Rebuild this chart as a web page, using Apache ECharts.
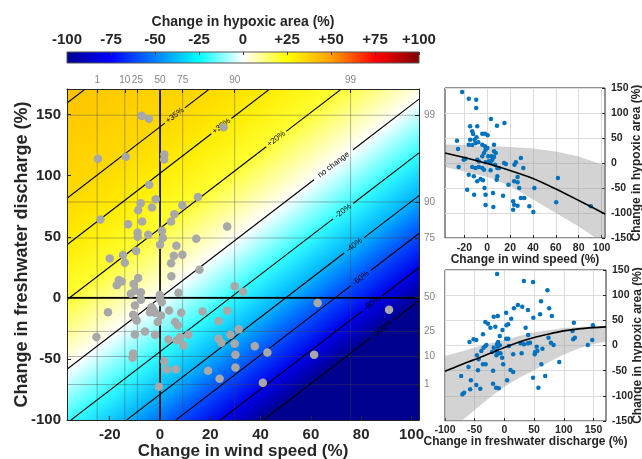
<!DOCTYPE html>
<html>
<head>
<meta charset="utf-8">
<script src="https://cdn.jsdelivr.net/npm/echarts@6/dist/echarts.min.js"></script>
<style>
html,body{margin:0;padding:0;background:#fff}
#chart{width:642px;height:459px}
</style>
</head>
<body>
<div id="chart"></div>
<script>
// ---- colour scale (change in hypoxic area, %) ----
const scaleValues = [-100, -75, -50, -25, 0, 25, 50, 75, 100];
const scaleColors = ['#00008f', '#0000ff', '#0080ff', '#00ffff', '#ffffff', '#ffff00', '#ffa000', '#ff0000', '#800000'];
const scaleTicks = [-100, -75, -50, -25, 0, 25, 50, 75, 100];

// ---- axes ----
const windRange = [-37, 103];
const dischargeRange = [-100, 171];
const windTicks = [-20, 0, 20, 40, 60, 80, 100];
const dischargeTicks = [-100, -50, 0, 50, 100, 150];

// percentiles of the wind and discharge distributions
const windPctLabels = ['1', '10', '25', '50', '75', '90', '99'];
const windPctValues = [-25, -14, -9, 0, 9, 29.7, 75.8];
const dischargePctLabels = ['1', '10', '25', '50', '75', '90', '99'];
const dischargePctValues = [-71, -48, -27.5, 0.5, 49, 78.5, 149.5];

// ---- contours of the response surface (level, ends at the plot edges, label anchor) ----
const contourLevels = [40, 35, 30, 20, 0, -20, -40, -60, -80, -100];
const contourText = ['', '+35%', '+30%', '+20%', 'no change', '-20%', '-40%', '-60%', '-80%', '-100%'];
const contourStart = [[-37, 159.5], [-37, 81.5], [-37, 43.5], [-37, -1.5], [-37, -58.5], [-37, -102.5], [-37, -137.5], [-37, -168.5], [-37, -196.5], [-37, -223.5]];
const contourEnd = [[103, 380.7], [103, 302.7], [103, 264.7], [103, 219.7], [103, 162.7], [103, 118.7], [103, 83.7], [103, 52.7], [103, 24.7], [103, -2.3]];
const contourLabelAt = [null, [5.9, 149.3], [24.4, 140.6], [46.2, 130], [69, 109], [72.8, 71], [77.2, 43], [79.8, 16.1], [84.4, -4.6], [88.4, -25.3]];

// ---- years: wind change vs discharge change ----
const mainWind = [-7.3, -4.4, -24.7, -13.6, 1.7, 1.6, 25.3, -4.3, -1.7, -7.7, -3.2, -8.7, 15.1, 8.9, 5.7, 4.4, -23.7, -12.7, -7.1, 26.7,
  -8.9, -8.9, -4.7, 0.8, 1.1, 0, 6.5, 14.4, -9.5, -14.7, -20, 5.5, 8.9, -14, 4.4, 15.7, -16.4, -15.3, -17.2, -8.7,
  -10.5, 4.5, -10, -11.6, -7.6, 7.3, -0.1, 29.7, 33, 0, -20.7, -10, -7.6, -10.7, -9.3, -10, -4, -2.7, -2, -0.9,
  0.4, 3.6, 8.4, 6, 7.1, 16.9, 26.7, 23.3, 31.3, 28, -25.3, -10, -6, -2, 3.3, 8, 6.7, 9.3, 11.3, 23.3,
  24.4, 29.7, 37.7, -10.7, -10.9, 1.7, 2.7, 6.3, 19.1, 30, 30, 23.7, 40.9, -0.4, 62.7, 91.1, 42.7, 61.3, 0.7, -3.3];
const mainDischarge = [149, 146.7, 113.9, 115.5, 117.4, 113.3, 139.6, 92.7, 80.7, 77.4, 73.9, 71.7, 82.6, 75.8, 68.5, 62.5, 64.1, 60.3, 62.5, 58.4,
  53.5, 50, 51.6, 54.9, 49.1, 43.4, 42.6, 48.3, 38.3, 35, 32.3, 34.5, 35.3, 28.8, 28.3, 23.1, 14.7, 13.3, 10.4, 16.3,
  11.4, 17.7, 5.9, 3.3, 4.6, 4.1, 2.4, 9.5, 5.1, -0.8, -11.7, -6.3, -1.6, -13.9, -18.5, -15.7, -11.7, -9.5, -12.2, -19.8,
  -14.4, -10.3, -12.2, -19.8, -22.6, -11.1, -10.6, -19, -25.8, -30.2, -32, -29.9, -27.5, -30.2, -34, -32, -34.8, -38.9, -30.2, -33.4,
  -36.7, -37.5, -39.7, -45.6, -49.1, -51.9, -58.7, -58.4, -59.7, -46.5, -57, -66.3, -69.5, -72.8, -4.3, -9.8, -44.8, -46.5, -3.5, -7.6];

// ---- hypoxic area change vs wind change ----
const windX = [-22, -16.2, -9.7, -9.7, 3.2, 8.5, 15, -15, -8.8, -13.2, -12.4, -4.4, -2, 0.3, -15, -11.2, -9.4, -10.3, -7.9, -16.2,
  -13.2, -26.5, -25.6, -4.4, -2, 5.9, -1.5, 0, 5.9, 7.4, 0.9, 3.8, 5.9, -8.8, -7.4, -4.4, -2.9, -19.1, -20.6, -1.5,
  1.5, 2.9, 4.4, 6.8, 8.8, 10.3, 14.7, 16.2, -25, -13.2, -10.3, -7.4, -4.4, -2.9, 2.9, -16.2, -11.8, -5.9, -3.8, -8.8,
  8.8, 8.2, 23.8, 25, 29.4, 31.5, 26.5, 23.5, 26.5, 18.5, 27.9, 41.2, 61.8, -2.4, -17.6, -11.5, -1.5, 5, 13.8, 29.4,
  32.4, -1.5, 5.3, 22.6, 23.5, 26.5, 36.8, 40.3, 22.6, 60.3, 90.6];
const windH = [142, 128.7, 126.7, 110, 88, 74.7, 80, 73.3, 73.3, 63.3, 58, 58.7, 58.7, 55.3, 46.7, 46.7, 51.3, 40, 41.3, 36.7,
  36, 44.7, 28, 36.7, 33.3, 36.7, 26.7, 30, 23.3, 20, 13.3, 13.3, 12, 6.7, 3.3, 13.3, 20, 8.7, 6.7, 1.3,
  3.3, 0, 6.7, -3.3, -10, -10, 0, -2, -8, -8, -10, -8, -10, -13.3, -14.7, -23.3, -26.7, -32, -34.7, -36.7,
  -26.7, -33.3, -3.3, 1.3, 10, -10, -28, -36.7, -38.7, -43.3, -50, -50, -30, -50, -53.3, -63.3, -63.3, -60, -65.3, -70,
  -70, -84, -88, -76.7, -83.3, -85.3, -86.7, -98, -93.3, -78.7, -86.7];
const windFitX = [-37, -20, 0, 20, 40, 60, 80, 103];
const windFitH = [20, 11, -1, -15, -31, -52, -75, -102];
const windBandX = [-37, -20, 0, 20, 40, 60, 80, 103];
const windBandUpper = [37, 36, 34, 32, 29, 23, 13, -5];
const windBandLower = [-8, -17, -28, -46, -73, -100, -127, -162];

// ---- hypoxic area change vs discharge change ----
const dischX = [-12.3, 32.8, 16, 22.7, 30, 39.6, 2.9, 11.4, -18, -11.2, -32.1, -27.6, -23.6, -36.1, -51.9, -47.4, -58.7, -15.2, -7.8, -3.3,
  3.5, 6.3, 2.9, 6.3, 35.7, -32.1, -35, -30.4, -18, -11.2, -7.8, -13.5, -9.5, -13.5, -20.8, -38.9, -46.3, -36.1, -31.6, -3.8,
  14.8, 29, 7.5, 27.3, 32.8, 39.6, 40, -2.1, 10.3, 14.8, -19.1, -44.6, -60.4, -72.8, -56.4, -47.4, -40.6, -57.6, -67.8, -70.6,
  -19.1, -14, -9.5, 4.6, -43.4, -12.3, -10.7, -6.7, 48.2, 72.4, 61.6, 75.3, 79.9, 60, 48.7, 43.1, 54.4, 51.6, 55.5, 51,
  64, 48.2, 68.6, 57.2, 62.2, 92.3, 74.2, 78.2, 82.7, 116.9, 114.6, 118.6, 115.8, 148.9, 147.8, 140.4];
const dischH = [142, 128, 73.8, 80.5, 77, 70.5, 65.2, 53.3, 57.3, 58.6, 46.7, 43.4, 35.4, 22.2, 12.3, 10.9, 7, 37.4, 18.9, 30.8,
  40, 42, 13.6, 13.6, 35.4, -1, -4.3, 1, -4.3, -2.3, 0.3, -11, -15.6, -19.5, -13, -11, -19.5, -37.4, -37.4, -24.2,
  -17.5, -15.6, -1, 4.3, 2.3, 4.3, 21, -37.4, -48.7, -52.6, -50, -49.3, -42.7, -60.6, -69.2, -78.5, -85.8, -87, -93.7, -97,
  -75.8, -83.8, -85.1, -69.2, -27.5, 2.3, 7, -15.6, 126, 110, 87.7, 73.8, 58.6, 61.9, 55.3, 5.6, -2.3, -13, -11, -17.5,
  -6.3, -64, -60.6, -83.8, -37.4, -32.8, 15.6, 5.6, 1, 45.4, 28.8, 15.6, 12.3, 40, 10.9, 1];
const dischFitX = [-100, -75, -50, -25, 0, 25, 50, 75, 100, 125, 150, 171];
const dischFitH = [-51, -39, -28, -16, -4, 7, 16, 23, 29, 33, 35.5, 37];
const dischBandX = [-100, -72, -50, -25, 0, 25, 50, 75, 100, 125, 150, 171];
const dischBandUpper = [-21, -12, -4, 4, 11, 19, 26, 31, 35, 37, 38, 39];
const dischBandLower = [-185, -150, -128, -104, -82, -64, -49, -33, -18, -6, 3, 8];

const FONT = '"Liberation Sans", Arial, Helvetica, sans-serif';
const INK = '#262626';

function hexToRgb(h) {
  return [parseInt(h.slice(1, 3), 16), parseInt(h.slice(3, 5), 16), parseInt(h.slice(5, 7), 16)];
}
function scaleColor(v) {
  const n = scaleValues.length;
  if (v <= scaleValues[0]) return scaleColors[0];
  if (v >= scaleValues[n - 1]) return scaleColors[n - 1];
  for (let i = 0; i < n - 1; i++) {
    if (v <= scaleValues[i + 1]) {
      const t = (v - scaleValues[i]) / (scaleValues[i + 1] - scaleValues[i]);
      const a = hexToRgb(scaleColors[i]), b = hexToRgb(scaleColors[i + 1]);
      return 'rgb(' + a.map((c, j) => Math.round(c + (b[j] - c) * t)).join(',') + ')';
    }
  }
}
const zip = (xs, ys) => xs.map((x, i) => [x, ys[i]]);
function nearestLabel(values, labels, v) {
  let best = 0;
  values.forEach((x, i) => { if (Math.abs(x - v) < Math.abs(values[best] - v)) best = i; });
  return labels[best];
}

// shaded surface: a linear gradient running across the parallel contours
function renderSurface(params, api) {
  const a = api.coord([windRange[0], dischargeRange[1]]);
  const b = api.coord([windRange[1], dischargeRange[0]]);
  const k = contourLevels.indexOf(0);
  const p0 = api.coord(contourStart[k]), p1 = api.coord(contourEnd[k]);
  let tx = p1[0] - p0[0], ty = p1[1] - p0[1];
  const len = Math.hypot(tx, ty); tx /= len; ty /= len;
  const nx = -ty, ny = tx;
  const ds = [[a[0], a[1]], [b[0], a[1]], [a[0], b[1]], [b[0], b[1]]].map(c => c[0] * nx + c[1] * ny);
  const dmin = Math.min(...ds), dmax = Math.max(...ds);
  const stops = contourLevels.map((lv, i) => {
    const s = api.coord(contourStart[i]), e = api.coord(contourEnd[i]);
    const d = ((s[0] + e[0]) / 2) * nx + ((s[1] + e[1]) / 2) * ny;
    return { offset: Math.min(1, Math.max(0, (d - dmin) / (dmax - dmin))), color: scaleColor(lv) };
  }).sort((p, q) => p.offset - q.offset);
  const fill = new echarts.graphic.LinearGradient(nx * dmin, ny * dmin, nx * dmax, ny * dmax, stops, true);
  return {
    type: 'rect',
    shape: { x: a[0], y: a[1], width: b[0] - a[0], height: b[1] - a[1] },
    style: { fill: fill }
  };
}

// percentile grid and zero lines across the main panel
function renderGuides(params, api) {
  const children = [];
  const thin = { stroke: 'rgba(70,70,70,0.4)', lineWidth: 1 };
  const bold = { stroke: '#000', lineWidth: 1.6 };
  windPctValues.forEach(v => {
    const p = api.coord([v, dischargeRange[0]]), q = api.coord([v, dischargeRange[1]]);
    children.push({ type: 'line', shape: { x1: p[0], y1: p[1], x2: q[0], y2: q[1] }, style: thin });
  });
  dischargePctValues.forEach(v => {
    const p = api.coord([windRange[0], v]), q = api.coord([windRange[1], v]);
    children.push({ type: 'line', shape: { x1: p[0], y1: p[1], x2: q[0], y2: q[1] }, style: thin });
  });
  const x0a = api.coord([0, dischargeRange[0]]), x0b = api.coord([0, dischargeRange[1]]);
  const y0a = api.coord([windRange[0], 0]), y0b = api.coord([windRange[1], 0]);
  children.push({ type: 'line', shape: { x1: x0a[0], y1: x0a[1], x2: x0b[0], y2: x0b[1] }, style: bold });
  children.push({ type: 'line', shape: { x1: y0a[0], y1: y0a[1], x2: y0b[0], y2: y0b[1] }, style: bold });
  return { type: 'group', children: children };
}

// contour lines with an inline label cut into each line
function renderContour(params, api) {
  const i = api.value(0);
  const s = api.coord(contourStart[i]), e = api.coord(contourEnd[i]);
  let tx = e[0] - s[0], ty = e[1] - s[1];
  const len = Math.hypot(tx, ty); tx /= len; ty /= len;
  const stroke = { stroke: '#000', lineWidth: 1.1 };
  const lab = contourLabelAt[i];
  if (!lab) {
    return { type: 'line', shape: { x1: s[0], y1: s[1], x2: e[0], y2: e[1] }, style: stroke };
  }
  const c = api.coord(lab);
  const half = contourText[i].length * 2.4 + 3;
  return {
    type: 'group',
    children: [
      { type: 'line', shape: { x1: s[0], y1: s[1], x2: c[0] - tx * half, y2: c[1] - ty * half }, style: stroke },
      { type: 'line', shape: { x1: c[0] + tx * half, y1: c[1] + ty * half, x2: e[0], y2: e[1] }, style: stroke },
      {
        type: 'text', x: c[0], y: c[1], rotation: Math.atan2(-ty, tx),
        style: { text: contourText[i], fill: '#000', fontSize: 8, fontFamily: FONT, align: 'center', verticalAlign: 'middle' }
      }
    ]
  };
}

function bandRenderer(xs, upper, lower) {
  return function (params, api) {
    const top = xs.map((x, i) => api.coord([x, upper[i]]));
    const bottom = xs.map((x, i) => api.coord([x, lower[i]])).reverse();
    return { type: 'polygon', shape: { points: top.concat(bottom) }, style: { fill: 'rgba(140,140,140,0.38)' } };
  };
}

function renderColorbar(params, api) {
  const a = api.coord([scaleValues[0], 1]);
  const b = api.coord([scaleValues[scaleValues.length - 1], 0]);
  const stops = scaleValues.map((v, i) => ({
    offset: (v - scaleValues[0]) / (scaleValues[scaleValues.length - 1] - scaleValues[0]),
    color: scaleColors[i]
  }));
  return {
    type: 'rect',
    shape: { x: a[0], y: a[1], width: b[0] - a[0], height: b[1] - a[1] },
    style: { fill: new echarts.graphic.LinearGradient(0, 0, 1, 0, stops), stroke: '#555', lineWidth: 1 }
  };
}

const boldLabel = (size) => ({ fontFamily: FONT, fontWeight: 'bold', fontSize: size, color: INK });
const blackLine = { show: true, onZero: false, lineStyle: { color: INK, width: 1 } };
const noLine = { show: false, onZero: false };
const insideTick = (len) => ({ show: true, inside: true, length: len, lineStyle: { color: INK, width: 1 } });
const lightSplit = { show: true, lineStyle: { color: '#dcdcdc', width: 1 } };

const chart = echarts.init(document.getElementById('chart'), null, { renderer: 'canvas' });

chart.setOption({
  animation: false,
  backgroundColor: '#ffffff',
  grid: [
    { left: 67, top: 89, width: 352, height: 331, outerBoundsMode: 'none' },
    { left: 445, top: 88, width: 160, height: 150, show: true, borderColor: INK, borderWidth: 1, outerBoundsMode: 'none' },
    { left: 445, top: 270, width: 161, height: 151, show: true, borderColor: INK, borderWidth: 1, outerBoundsMode: 'none' },
    { left: 67, top: 52, width: 352, height: 11, outerBoundsMode: 'none' }
  ],
  xAxis: [
    {
      gridIndex: 0, type: 'value', min: windRange[0], max: windRange[1], position: 'bottom', z: 5,
      axisLine: blackLine, axisTick: Object.assign(insideTick(4), { customValues: windTicks }),
      axisLabel: Object.assign(boldLabel(15), { customValues: windTicks, margin: 7, hideOverlap: false }),
      splitLine: { show: false },
      name: 'Change in wind speed (%)', nameLocation: 'middle', nameGap: 23, nameMoveOverlap: false,
      nameTextStyle: boldLabel(17)
    },
    {
      gridIndex: 0, type: 'value', min: windRange[0], max: windRange[1], position: 'top', z: 5,
      axisLine: blackLine, axisTick: Object.assign(insideTick(4), { customValues: windPctValues }),
      axisLabel: {
        customValues: windPctValues, margin: 4, fontFamily: FONT, fontSize: 10, color: '#858585', hideOverlap: false,
        formatter: (v) => nearestLabel(windPctValues, windPctLabels, v)
      },
      splitLine: { show: false }
    },
    {
      gridIndex: 1, type: 'value', min: windRange[0], max: windRange[1],
      axisLine: noLine, axisTick: Object.assign(insideTick(3), { customValues: windTicks }),
      axisLabel: Object.assign(boldLabel(10.5), { customValues: windTicks, margin: 5, hideOverlap: false }),
      splitLine: lightSplit,
      name: 'Change in wind speed (%)', nameLocation: 'middle', nameGap: 16, nameMoveOverlap: false,
      nameTextStyle: boldLabel(12)
    },
    {
      gridIndex: 2, type: 'value', min: dischargeRange[0], max: dischargeRange[1],
      axisLine: noLine, axisTick: Object.assign(insideTick(3), { customValues: dischargeTicks }),
      axisLabel: Object.assign(boldLabel(10.5), { customValues: dischargeTicks, margin: 4, hideOverlap: false }),
      splitLine: lightSplit,
      name: 'Change in freshwater discharge (%)', nameLocation: 'middle', nameGap: 15, nameMoveOverlap: false,
      nameTextStyle: boldLabel(12)
    },
    {
      gridIndex: 3, type: 'value', min: scaleTicks[0], max: scaleTicks[scaleTicks.length - 1], interval: 25, position: 'top', z: 5,
      axisLine: noLine, axisTick: { show: true, inside: true, length: 3, lineStyle: { color: '#333', width: 1 } },
      axisLabel: Object.assign(boldLabel(15), { margin: 5, hideOverlap: false, formatter: (v) => (v > 0 ? '+' + v : '' + v) }),
      splitLine: { show: false },
      name: 'Change in hypoxic area (%)', nameLocation: 'middle', nameGap: 23, nameMoveOverlap: false,
      nameTextStyle: boldLabel(14)
    }
  ],
  yAxis: [
    {
      gridIndex: 0, type: 'value', min: dischargeRange[0], max: dischargeRange[1], position: 'left', z: 5,
      axisLine: blackLine, axisTick: Object.assign(insideTick(4), { customValues: dischargeTicks }),
      axisLabel: Object.assign(boldLabel(15), { customValues: dischargeTicks, margin: 6, hideOverlap: false }),
      splitLine: { show: false },
      name: 'Change in freshwater discharge (%)', nameLocation: 'middle', nameGap: 36, nameRotate: 90, nameMoveOverlap: false,
      nameTextStyle: boldLabel(18)
    },
    {
      gridIndex: 0, type: 'value', min: dischargeRange[0], max: dischargeRange[1], position: 'right', z: 5,
      axisLine: blackLine, axisTick: Object.assign(insideTick(4), { customValues: dischargePctValues }),
      axisLabel: {
        customValues: dischargePctValues, margin: 5, fontFamily: FONT, fontSize: 10, color: '#858585', hideOverlap: false,
        formatter: (v) => nearestLabel(dischargePctValues, dischargePctLabels, v)
      },
      splitLine: { show: false }
    },
    {
      gridIndex: 1, type: 'value', min: -150, max: 150, interval: 50, position: 'right',
      axisLine: noLine, axisTick: insideTick(3),
      axisLabel: Object.assign(boldLabel(10.5), { margin: 6, hideOverlap: false }),
      splitLine: lightSplit,
      name: 'Change in hypoxic area (%)', nameLocation: 'middle', nameGap: 26, nameRotate: 90, nameMoveOverlap: false,
      nameTextStyle: boldLabel(12)
    },
    {
      gridIndex: 2, type: 'value', min: -150, max: 150, interval: 50, position: 'right',
      axisLine: noLine, axisTick: insideTick(3),
      axisLabel: Object.assign(boldLabel(10.5), { margin: 6, hideOverlap: false }),
      splitLine: lightSplit,
      name: 'Change in hypoxic area (%)', nameLocation: 'middle', nameGap: 26, nameRotate: 90, nameMoveOverlap: false,
      nameTextStyle: boldLabel(12)
    },
    { gridIndex: 3, type: 'value', min: 0, max: 1, show: false }
  ],
  series: [
    {
      type: 'custom', xAxisIndex: 0, yAxisIndex: 0, z: 1, silent: true, clip: true,
      data: [[0, 0]], renderItem: renderSurface
    },
    {
      type: 'custom', xAxisIndex: 0, yAxisIndex: 0, z: 2, silent: true, clip: true,
      data: [[0, 0]], renderItem: renderGuides
    },
    {
      type: 'custom', xAxisIndex: 0, yAxisIndex: 0, z: 3, silent: true, clip: true,
      data: contourLevels.map((_, i) => [i, 0]), renderItem: renderContour
    },
    {
      type: 'scatter', xAxisIndex: 0, yAxisIndex: 0, z: 6, silent: true,
      data: zip(mainWind, mainDischarge), symbolSize: 8.5, itemStyle: { color: '#a8a8a8', opacity: 1 }
    },
    {
      type: 'custom', xAxisIndex: 2, yAxisIndex: 2, z: 2, silent: true, clip: true,
      data: [[0, 0]], renderItem: bandRenderer(windBandX, windBandUpper, windBandLower)
    },
    {
      type: 'scatter', xAxisIndex: 2, yAxisIndex: 2, z: 4, silent: true,
      data: zip(windX, windH), symbolSize: 4.5, itemStyle: { color: '#0072bd', opacity: 1 }
    },
    {
      type: 'line', xAxisIndex: 2, yAxisIndex: 2, z: 5, silent: true, clip: true, smooth: 0.3, symbol: 'none',
      data: zip(windFitX, windFitH), lineStyle: { color: '#000', width: 1.6 }
    },
    {
      type: 'custom', xAxisIndex: 3, yAxisIndex: 3, z: 2, silent: true, clip: true,
      data: [[0, 0]], renderItem: bandRenderer(dischBandX, dischBandUpper, dischBandLower)
    },
    {
      type: 'scatter', xAxisIndex: 3, yAxisIndex: 3, z: 4, silent: true,
      data: zip(dischX, dischH), symbolSize: 4.5, itemStyle: { color: '#0072bd', opacity: 1 }
    },
    {
      type: 'line', xAxisIndex: 3, yAxisIndex: 3, z: 5, silent: true, clip: true, smooth: 0.3, symbol: 'none',
      data: zip(dischFitX, dischFitH), lineStyle: { color: '#000', width: 1.6 }
    },
    {
      type: 'custom', xAxisIndex: 4, yAxisIndex: 4, z: 2, silent: true,
      data: [[0, 0]], renderItem: renderColorbar
    }
  ]
});
</script>
</body>
</html>
